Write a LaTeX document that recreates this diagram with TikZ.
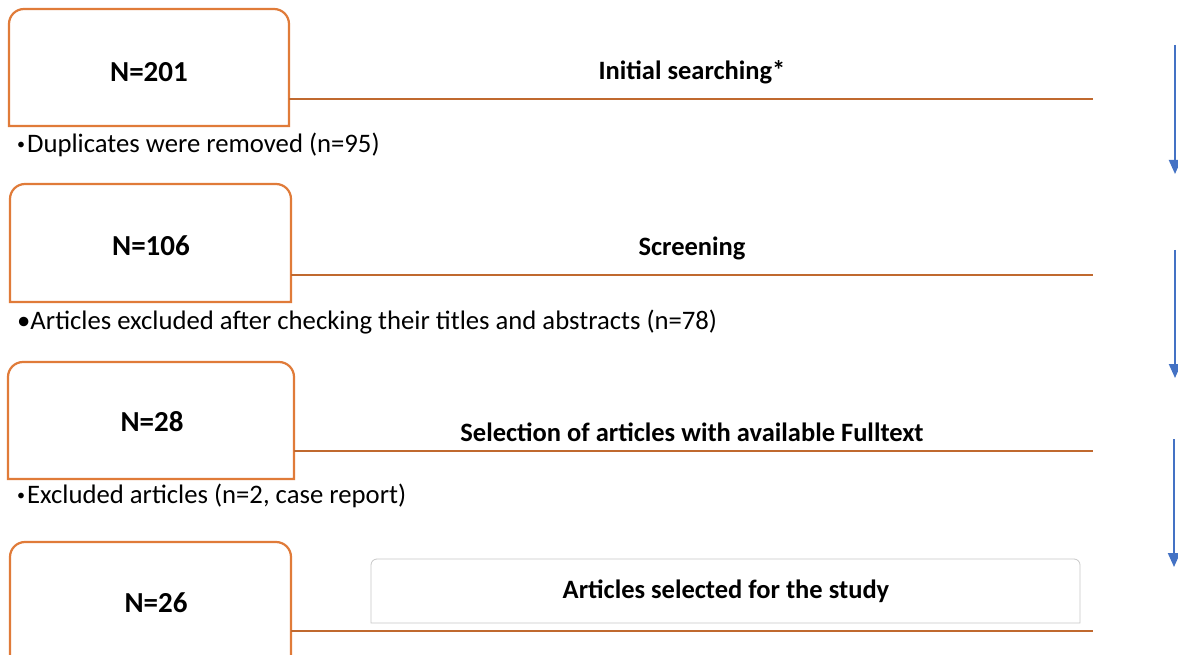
\documentclass[tikz,border=0pt]{standalone}
\usepackage{fontspec}
\setmainfont{Carlito}
\usetikzlibrary{arrows.meta}
\definecolor{boxorange}{HTML}{E07B39}
\definecolor{lineorange}{HTML}{C0692F}
\definecolor{arrowblue}{HTML}{4472C4}
\definecolor{lightgray}{HTML}{C8C8C8}
\newcommand{\smallbul}{\raisebox{3pt}{\fontsize{16}{16}\selectfont\textbullet}\hspace{2pt}}
\tikzset{
  x=1pt, y=-1pt,
  outline/.style={draw=boxorange, line width=2.2pt},
  stageline/.style={draw=lineorange, line width=2.2pt},
  countlabel/.style={font=\fontsize{29}{33}\selectfont\bfseries},
  stagelabel/.style={font=\fontsize{26.5}{30}\selectfont\bfseries},
  notelabel/.style={font=\fontsize{26.7}{30}\selectfont, anchor=west, inner sep=0pt},
  flowarrow/.style={draw=arrowblue, line width=2pt, -{Triangle[length=14pt,width=12pt]}},
}
\begin{document}
\begin{tikzpicture}
\clip (0,0) rectangle (1178,655);
\fill[white] (0,0) rectangle (1178,655);

% box 1
\coordinate (b1nw) at (9,9); \coordinate (b1se) at (289,126);
\draw[outline] (b1nw |- b1se) [rounded corners=15pt] -- (b1nw) -- (b1se |- b1nw) [sharp corners] -- (b1se) -- cycle;
\node[countlabel] (n1) at (149,72) {N=201};
\coordinate (b1r) at (289,99);
\coordinate (e1) at (1093,99);
\draw[stageline] (b1r) -- (e1);
\node[stagelabel] (s1) at (692,72) {Initial searching*};
\node[notelabel] (t1) at (17,145) {\smallbul Duplicates were removed (n=95)};

% box 2
\coordinate (b2nw) at (10,184); \coordinate (b2se) at (291,302);
\draw[outline] (b2nw |- b2se) [rounded corners=15pt] -- (b2nw) -- (b2se |- b2nw) [sharp corners] -- (b2se) -- cycle;
\node[countlabel] (n2) at (151,246) {N=106};
\coordinate (b2r) at (291,275);
\coordinate (e2) at (1093,275);
\draw[stageline] (b2r) -- (e2);
\node[stagelabel] (s2) at (692,248) {Screening};
\node[notelabel] (t2) at (17,322) {\textbullet Articles excluded after checking their titles and abstracts (n=78)};

% box 3
\coordinate (b3nw) at (8,362); \coordinate (b3se) at (294,479);
\draw[outline] (b3nw |- b3se) [rounded corners=15pt] -- (b3nw) -- (b3se |- b3nw) [sharp corners] -- (b3se) -- cycle;
\node[countlabel] (n3) at (152,422) {N=28};
\coordinate (b3r) at (294,451);
\coordinate (e3) at (1093,451);
\draw[stageline] (b3r) -- (e3);
\node[stagelabel] (s3) at (692,432) {Selection of articles with available Fulltext};
\node[notelabel] (t3) at (17,496) {\smallbul Excluded articles (n=2, case report)};

% box 4
\coordinate (b4nw) at (10,542); \coordinate (b4se) at (291,680);
\draw[outline] (b4nw |- b4se) [rounded corners=15pt] -- (b4nw) -- (b4se |- b4nw) [sharp corners] -- (b4se) -- cycle;
\node[countlabel] (n4) at (156,603) {N=26};
\coordinate (b4r) at (291,631);
\coordinate (e4) at (1093,631);
\draw[stageline] (b4r) -- (e4);
\coordinate (f1) at (371,559); \coordinate (f2) at (1080,623);
\draw[draw=lightgray, line width=0.8pt] (f1 |- f2) [rounded corners=6pt] -- (f1) -- (f2 |- f1) [sharp corners] -- (f2) -- cycle;
\node[stagelabel] (s4) at (726,591) {Articles selected for the study};

% arrows
\coordinate (a1s) at (1175,45); \coordinate (a1e) at (1175,174);
\coordinate (a2s) at (1175,250); \coordinate (a2e) at (1175,378);
\coordinate (a3s) at (1174,439); \coordinate (a3e) at (1174,567);
\draw[flowarrow] (a1s) -- (a1e);
\draw[flowarrow] (a2s) -- (a2e);
\draw[flowarrow] (a3s) -- (a3e);
\end{tikzpicture}
\end{document}
